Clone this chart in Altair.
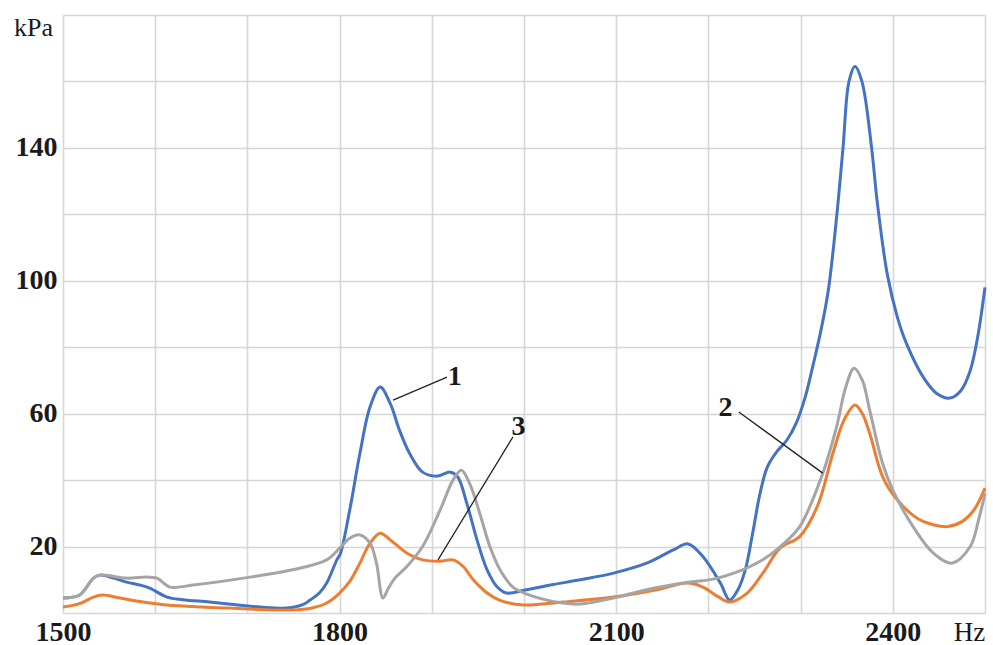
import altair as alt
import pandas as pd

# Curve 1 (blue)
freq_1 = [1500, 1518, 1533, 1540, 1555, 1569, 1585, 1594, 1613, 1630, 1659, 1690,
          1714, 1743, 1760, 1768, 1778, 1786, 1797, 1801, 1811, 1822, 1833, 1844,
          1855, 1865, 1876, 1890, 1906, 1920, 1928, 1938, 1949, 1960, 1971, 1981,
          2003, 2030, 2061, 2097, 2133, 2162, 2178, 2194, 2213, 2223, 2232, 2240,
          2248, 2256, 2264, 2274, 2285, 2295, 2305, 2313, 2322, 2330, 2339, 2346,
          2352.5, 2359, 2366.5, 2377, 2383, 2394, 2405, 2415, 2433, 2448, 2462, 2474,
          2484, 2492, 2500]
kpa_1 = [4.5, 5.4, 10.5, 11.4, 10.5, 9.3, 8.3, 7.5, 4.8, 4.0, 3.3, 2.4,
         1.8, 1.5, 2.5, 3.9, 6, 9, 16, 18, 31, 48, 62, 68,
         63, 55, 48, 42.4, 41.2, 42.4, 41, 33, 22, 13, 7.8, 6,
         7, 8.5, 10, 12, 15, 19, 20.8, 17, 9, 3.9, 7, 13,
         24, 36, 44, 48.5, 52, 57, 65, 74, 85, 97, 119, 140,
         160, 164.5, 160, 140, 124, 102, 89, 81, 71, 66, 64.7, 67,
         73, 83, 98]

# Curve 2 (grey)
freq_2 = [1500, 1518, 1533, 1540, 1569, 1591, 1602, 1616, 1641, 1703, 1749, 1786,
          1800, 1811, 1822, 1833, 1840, 1847, 1853, 1860, 1873, 1890, 1909,
          1923, 1932, 1941, 1952, 1963, 1974, 1988, 2006, 2042, 2061, 2097, 2133,
          2180, 2205, 2237, 2259, 2278, 2299, 2324, 2339, 2349, 2358, 2367, 2375,
          2389, 2400, 2422, 2444, 2464, 2484, 2493, 2500]
kpa_2 = [4.5, 5.4, 10.5, 11.4, 10.5, 10.8, 10.5, 7.8, 8.4, 10.8, 13, 16,
         19.5, 22.5, 23.5, 21, 15, 4.5, 7.5, 10.5, 14, 20, 31,
         40, 43, 39, 30, 20, 13, 7.8, 5.4, 3, 2.7, 4.5, 7,
         9.3, 10.2, 13, 16, 20, 26, 42, 56, 68, 73.7, 70, 61,
         45, 37, 26, 18, 15, 20, 28, 36]

# Curve 3 (orange)
freq_3 = [1500, 1518, 1533, 1543, 1560, 1587, 1613, 1650, 1678, 1749, 1770, 1786,
          1800, 1811, 1822, 1833, 1844, 1855, 1873, 1890, 1909, 1923, 1934, 1945,
          1960, 1974, 1999, 2042, 2097, 2144, 2177, 2194, 2210, 2223, 2242, 2259,
          2278, 2299, 2318, 2335, 2347, 2359, 2367, 2375, 2389, 2405, 2426, 2445,
          2459, 2475, 2488, 2500]
kpa_3 = [1.8, 2.8, 4.8, 5.4, 4.6, 3.3, 2.4, 1.8, 1.5, 0.9, 1.5, 3,
         6, 9.5, 15, 21, 24, 22, 18, 16, 15.6, 16, 14, 10,
         6, 3.8, 2.4, 3.3, 4.8, 7, 9, 7.8, 5, 3.3, 6, 12,
         19.6, 23, 32, 48, 58, 62.6, 60, 54, 41, 34, 28.6, 26.5,
         26, 27.5, 31, 37.6]

curve_names = ["1", "2", "3"]
curve_colors = ["#4472C4", "#A5A5A5", "#ED7D31"]

# Numbered callouts: label position and the leader line from the curve to it
label_text = ["1", "3", "2"]
label_hz = [1925, 1994, 2218.5]
label_kpa = [71, 56, 61.7]
leader_hz = [1858, 1906.7, 2233]
leader_kpa = [64.1, 16.0, 60.5]
leader_hz2 = [1916.5, 1988, 2324]
leader_kpa2 = [71.0, 53.0, 42.1]

rows = []
for name, xs, ys in [("1", freq_1, kpa_1), ("2", freq_2, kpa_2), ("3", freq_3, kpa_3)]:
    rows += [{"curve": name, "hz": x, "kpa": y} for x, y in zip(xs, ys)]
curves = pd.DataFrame(rows)

labels = pd.DataFrame({"text": label_text, "hz": label_hz, "kpa": label_kpa})
leaders = pd.DataFrame({"hz": leader_hz, "kpa": leader_kpa,
                        "hz2": leader_hz2, "kpa2": leader_kpa2})

SERIF = "Liberation Serif"

x_scale = alt.Scale(domain=[1500, 2500], nice=False, zero=False)
y_scale = alt.Scale(domain=[0, 180], nice=False, zero=True)

x_axis = alt.Axis(
    title="Hz", values=list(range(1500, 2501, 100)), format="d",
    labelExpr="datum.value % 300 == 0 ? datum.label : ''",
    labelOverlap=False, labelFlush=False, labelBound=False,
    labelFont=SERIF, labelFontWeight="bold", labelFontSize=28,
    labelColor="#1a1a1a", labelPadding=5, ticks=False, domain=False,
    grid=True, gridColor="#d6d6d6", gridWidth=1.6,
    titleFont=SERIF, titleFontWeight="normal", titleFontSize=27, titleColor="#1a1a1a",
    titleX=906, titleY=27, titleAlign="center", titleBaseline="alphabetic",
)
y_axis = alt.Axis(
    title="kPa", values=list(range(0, 181, 20)), format="d",
    labelExpr="(datum.value - 20) % 40 == 0 && datum.value < 170 ? datum.label : ''",
    labelOverlap=False, labelFlush=False, labelBound=False,
    labelFont=SERIF, labelFontWeight="bold", labelFontSize=28,
    labelColor="#1a1a1a", labelPadding=6, ticks=False, domain=False,
    grid=True, gridColor="#d6d6d6", gridWidth=1.6,
    titleFont=SERIF, titleFontWeight="normal", titleFontSize=26, titleColor="#1a1a1a",
    titleAngle=0, titleX=-30, titleY=20, titleAlign="center", titleBaseline="alphabetic",
)

x_enc = alt.X("hz:Q", scale=x_scale, axis=x_axis)
y_enc = alt.Y("kpa:Q", scale=y_scale, axis=y_axis)
color_enc = alt.Color("curve:N", scale=alt.Scale(domain=curve_names, range=curve_colors),
                      legend=None)

# Draw blue first, then orange, with grey on top
layers = []
for name in ["1", "3", "2"]:
    layers.append(
        alt.Chart(curves)
        .transform_filter(alt.datum.curve == name)
        .mark_line(interpolate="catmull-rom", strokeWidth=3)
        .encode(x=x_enc, y=y_enc, color=color_enc)
    )

leader_lines = alt.Chart(leaders).mark_rule(color="#222222", strokeWidth=1.3).encode(
    x=x_enc, y=y_enc, x2="hz2:Q", y2="kpa2:Q"
)
callouts = alt.Chart(labels).mark_text(
    font=SERIF, fontWeight="bold", fontSize=28, color="#1a1a1a",
    align="center", baseline="middle"
).encode(x=x_enc, y=y_enc, text="text:N")

chart = alt.layer(*layers, leader_lines, callouts).properties(
    width=922, height=598,
    padding={"left": 63, "top": 15, "right": 8, "bottom": 32},
    autosize=alt.AutoSizeParams(type="none"),
    background="white",
).configure_view(stroke=None)

chart.save("out.html", embed_options={"renderer": "svg", "actions": False})
